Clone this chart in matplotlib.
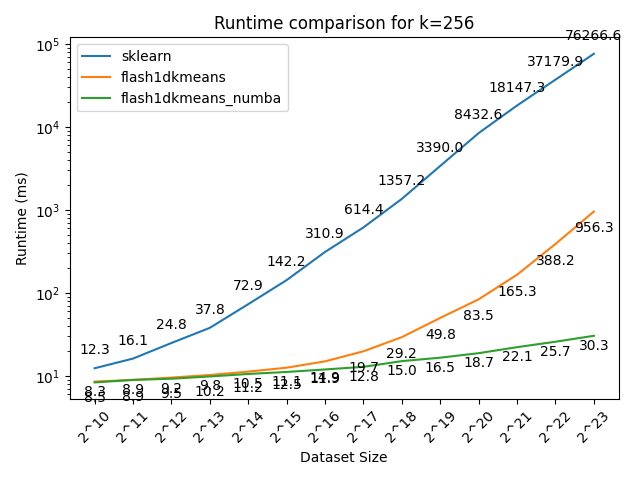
import matplotlib
matplotlib.use("Agg")
import matplotlib.pyplot as plt

# dataset sizes 2^10 .. 2^23
exps = list(range(10, 24))
labels = ["2^%d" % e for e in exps]

sklearn = [12.3, 16.1, 24.8, 37.8, 72.9, 142.2, 310.9, 614.4, 1357.2,
           3390.0, 8432.6, 18147.3, 37179.9, 76266.6]
flash = [8.5, 8.9, 9.5, 10.2, 11.2, 12.5, 14.9, 19.7, 29.2,
         49.8, 83.5, 165.3, 388.2, 956.3]
numba = [8.3, 8.9, 9.2, 9.8, 10.5, 11.1, 11.9, 12.8, 15.0,
         16.5, 18.7, 22.1, 25.7, 30.3]

fig, ax = plt.subplots(figsize=(6.4, 4.8), dpi=100)

series = [("sklearn", sklearn, 10), ("flash1dkmeans", flash, -15),
          ("flash1dkmeans_numba", numba, -10)]

for name, vals, off in series:
    ax.plot(labels, vals, label=name)
    for x, v in zip(labels, vals):
        ax.annotate("%.1f" % v, (x, v), textcoords="offset points",
                    xytext=(0, off), ha="center")

ax.set_yscale("log")
ax.set_xlabel("Dataset Size")
ax.set_ylabel("Runtime (ms)")
ax.set_title("Runtime comparison for k=256")
ax.legend(loc="upper left")
plt.xticks(rotation=45)
plt.tight_layout()
plt.savefig("out.png")
